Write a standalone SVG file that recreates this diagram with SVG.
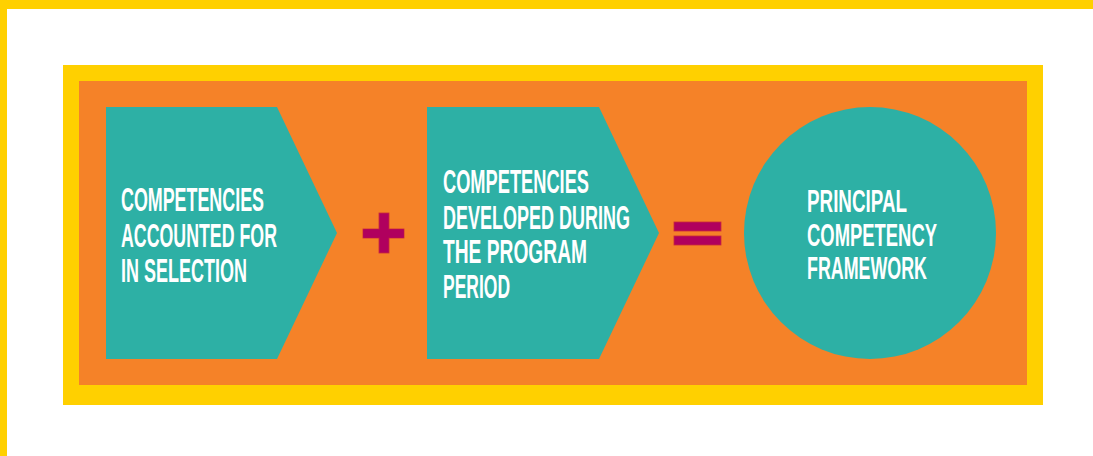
<svg xmlns="http://www.w3.org/2000/svg" width="1093" height="456" viewBox="0 0 1093 456">
<style>
.teal{fill:#2DB0A5}
.op{fill:#B0005E;stroke:#C8283A;stroke-width:0.8}
.lbl{font-family:"Liberation Sans",Arial,sans-serif;font-size:33px;font-weight:bold;fill:#FFFFFF}
.sm{font-size:31px}
</style>
<rect x="0" y="0" width="1093" height="456" fill="#FFFFFF"/>
<rect x="0" y="0" width="1093" height="9" fill="#FFD000"/>
<rect x="0" y="0" width="7" height="456" fill="#FFD000"/>
<rect x="63" y="65" width="980" height="340" fill="#FFD000"/>
<rect x="79" y="81" width="948" height="304" fill="#F58228"/>
<g id="node-selection">
<polygon class="teal" points="106,107 277,107 337,233 277,359 106,359"/>
<text class="lbl"><tspan x="121" y="211" textLength="143" lengthAdjust="spacingAndGlyphs">COMPETENCIES</tspan></text>
<text class="lbl"><tspan x="121" y="247" textLength="156" lengthAdjust="spacingAndGlyphs">ACCOUNTED FOR</tspan></text>
<text class="lbl"><tspan x="121" y="282" textLength="126" lengthAdjust="spacingAndGlyphs">IN SELECTION</tspan></text>
</g>
<g id="node-plus">
<rect class="op" x="363" y="229" width="41" height="9"/>
<rect class="op" x="379" y="213" width="10" height="40"/>
<rect x="363.4" y="229.4" width="40.2" height="8.2" fill="#B0005E"/>
</g>
<g id="node-program">
<polygon class="teal" points="427,107 599,107 659,233 599,359 427,359"/>
<text class="lbl"><tspan x="443" y="193" textLength="146" lengthAdjust="spacingAndGlyphs">COMPETENCIES</tspan></text>
<text class="lbl"><tspan x="443" y="229" textLength="187" lengthAdjust="spacingAndGlyphs">DEVELOPED DURING</tspan></text>
<text class="lbl"><tspan x="443" y="263" textLength="144" lengthAdjust="spacingAndGlyphs">THE PROGRAM</tspan></text>
<text class="lbl"><tspan x="443" y="298" textLength="67" lengthAdjust="spacingAndGlyphs">PERIOD</tspan></text>
</g>
<g id="node-equals">
<rect class="op" x="674" y="222" width="47" height="9"/>
<rect class="op" x="674" y="236" width="47" height="9"/>
</g>
<g id="node-framework">
<circle class="teal" cx="870" cy="233" r="126"/>
<text class="lbl sm"><tspan x="807" y="212" textLength="100" lengthAdjust="spacingAndGlyphs">PRINCIPAL</tspan></text>
<text class="lbl sm"><tspan x="807" y="246" textLength="130" lengthAdjust="spacingAndGlyphs">COMPETENCY</tspan></text>
<text class="lbl sm"><tspan x="807" y="279" textLength="120" lengthAdjust="spacingAndGlyphs">FRAMEWORK</tspan></text>
</g>
<g id="connectors"></g>
</svg>
